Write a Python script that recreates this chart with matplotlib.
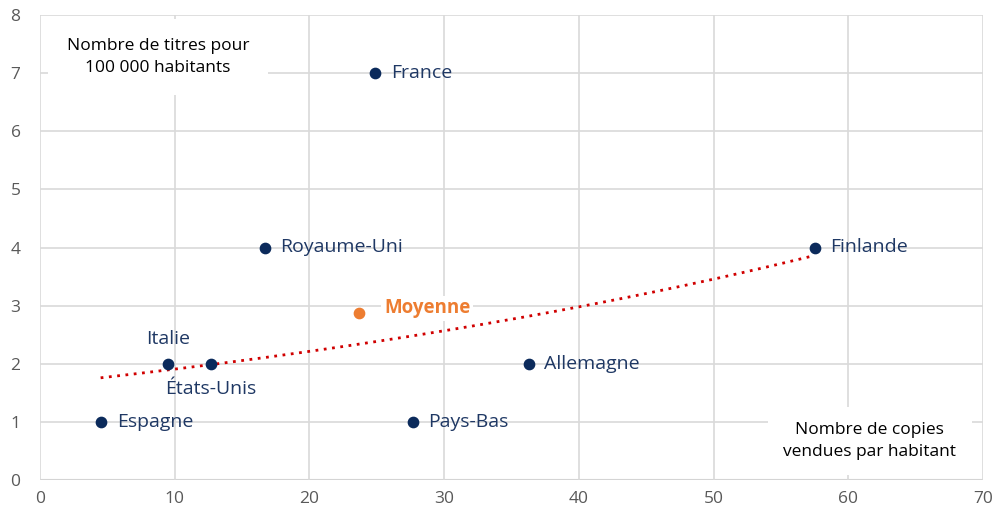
import numpy as np
import matplotlib
matplotlib.use("Agg")
import matplotlib.pyplot as plt

plt.rcParams['font.family'] = ['Open Sans', 'DejaVu Sans']

# data
pays = ["Espagne", "Italie", "États-Unis", "Royaume-Uni", "France", "Pays-Bas", "Allemagne", "Finlande"]
copies = [4.5, 9.5, 12.7, 16.7, 24.9, 27.7, 36.3, 57.5]
titres = [1, 2, 2, 4, 7, 1, 2, 4]
moyenne = (23.7, 2.88)

# label offsets (points) for each country
offsets = {
    "Espagne": (12, 0, "left", "center"),
    "Italie": (0, 11, "center", "bottom"),
    "États-Unis": (0, -12, "center", "top"),
    "Royaume-Uni": (11, 0, "left", "center"),
    "France": (11, 0, "left", "center"),
    "Pays-Bas": (11, 0, "left", "center"),
    "Allemagne": (11, 0, "left", "center"),
    "Finlande": (11, 0, "left", "center"),
}

navy = "#0B2A5B"
text_col = "#1F3864"
orange = "#ED7D31"

fig = plt.figure(figsize=(9.93, 5.18), dpi=100)
ax = fig.add_axes([40 / 993, 38 / 518, 943 / 993, 465 / 518])

ax.set_xlim(0, 70)
ax.set_ylim(0, 8)
ax.set_xticks(range(0, 71, 10))
ax.set_yticks(range(0, 9))
ax.grid(True, color="#D9D9D9", linewidth=1.2, zorder=0)
for s in ax.spines.values():
    s.set_visible(False)
ax.axhline(0, color="#BFBFBF", linewidth=1.5, zorder=1)
ax.tick_params(length=0, labelsize=12.5, colors="#595959", pad=8)
ax.tick_params(axis="y", pad=14)

# exponential trend (like Excel)
b, ln_a = np.polyfit(copies, np.log(titres), 1)
xt = np.linspace(min(copies), max(copies), 200)
ax.plot(xt, np.exp(ln_a + b * xt), linestyle=(0, (1, 2)), color="#D00000", linewidth=2, zorder=2)

ax.scatter(copies, titres, s=55, color=navy, zorder=4)
for p, x, y in zip(pays, copies, titres):
    dx, dy, ha, va = offsets[p]
    ax.annotate(p, (x, y), xytext=(dx, dy), textcoords="offset points",
                ha=ha, va=va, fontsize=14, color=text_col, zorder=5)

ax.scatter([moyenne[0]], [moyenne[1]], s=55, color=orange, zorder=4)
ax.annotate("Moyenne", moyenne, xytext=(18, 3), textcoords="offset points",
            ha="left", va="center", fontsize=13.5, color=orange, fontweight="bold",
            bbox=dict(facecolor="white", edgecolor="none", pad=2), zorder=5)

ax.text(8.75, 7.28, "Nombre de titres pour\n100 000 habitants", ha="center", va="center",
        fontsize=12.5, color="black", linespacing=1.45,
        bbox=dict(facecolor="white", edgecolor="none", boxstyle="square,pad=1.1"), zorder=6)
ax.text(61.6, 0.67, "Nombre de copies\nvendues par habitant", ha="center", va="center",
        fontsize=12.5, color="black", linespacing=1.45,
        bbox=dict(facecolor="white", edgecolor="none", boxstyle="square,pad=0.9"), zorder=6)

fig.savefig("out.png", dpi=100)
